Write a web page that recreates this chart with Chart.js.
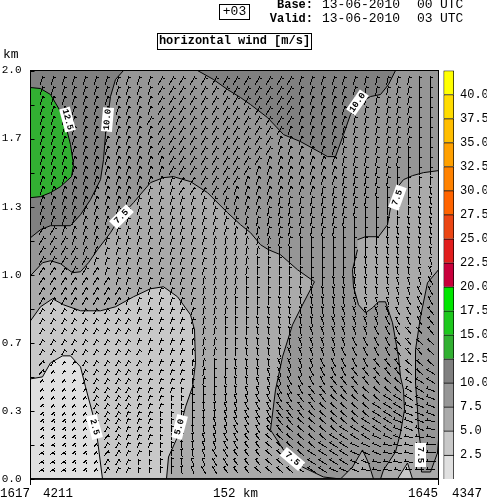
<!DOCTYPE html>
<html>
<head>
<meta charset="utf-8">
<title>horizontal wind</title>
<script src="https://cdn.jsdelivr.net/npm/chart.js@4/dist/chart.umd.min.js"></script>
<style>
    body { margin: 0; background: #fff; }
    canvas { position: absolute; top: 0; }
</style>
</head>
<body>
<canvas id="sectionChart" width="487" height="499" style="left:0"></canvas>
<canvas id="barChart" width="47" height="499" style="left:440px"></canvas>
<script>
// speed bands [m/s]
var bandEdges = [2.5, 5, 7.5, 10, 12.5, 15, 17.5, 20, 22.5, 25, 27.5, 30, 32.5, 35, 37.5, 40, 42.5];
var bandColours = ["#e0e0e0", "#c8c8c8", "#aaaaaa", "#969696", "#808080", "#32b032", "#1ec81e", "#00e600", "#c8003c", "#e11e1e", "#eb4614", "#ff6400", "#ff8200", "#ffa000", "#ffbe00", "#ffdc00", "#ffff00"];

// contours as [section step, height step]; 204 height steps = 1 km
var contourBase = [[0, 0], [408, 0], [408, 408], [0, 408]];
var contourLeft5 = [[0, 203], [12, 216], [20, 218], [30, 215], [42, 206], [50, 207], [58, 216], [67, 229], [80, 246], [90, 262], [103, 276], [120, 296], [133, 301], [143, 302], [160, 297], [177, 286], [197, 266], [210, 254], [220, 246], [230, 234], [238, 229], [250, 224], [267, 209], [284, 197], [272, 174], [262, 154], [252, 122], [245, 89], [240, 49], [253, 29], [272, 12], [293, 2], [310, 0], [0, 0]];
var contourWedge5 = [[310, 0], [322, 12], [332, 29], [338, 16], [343, 0]];
var contourRight5 = [[327, 239], [335, 242], [348, 242], [357, 254], [360, 271], [365, 289], [373, 299], [382, 303], [393, 306], [408, 308], [408, 209], [397, 196], [390, 162], [385, 129], [385, 96], [387, 69], [388, 49], [390, 34], [391, 7], [400, 7], [407, 26], [408, 39], [408, 0], [350, 0], [353, 9], [365, 27], [370, 46], [374, 69], [373, 89], [370, 102], [368, 122], [362, 156], [355, 177], [348, 177], [342, 171], [335, 166], [328, 174], [323, 192], [322, 209], [327, 229]];
var contourTriangle25 = [[367, 0], [377, 16], [382, 0]];
var contourLeft25 = [[0, 158], [10, 172], [22, 180], [33, 174], [50, 168], [70, 168], [85, 172], [103, 182], [120, 190], [133, 192], [147, 182], [160, 164], [164, 149], [165, 116], [162, 92], [155, 72], [147, 42], [138, 22], [136, 0], [0, 0]];
var contourLeft0 = [[0, 100], [12, 102], [20, 116], [32, 123], [40, 123], [50, 112], [55, 92], [63, 62], [67, 39], [72, 0], [0, 0]];
var contourTopLeft10 = [[93, 408], [85, 399], [80, 382], [75, 344], [73, 319], [70, 299], [60, 279], [50, 264], [40, 253], [20, 253], [10, 249], [0, 241], [0, 408]];
var contourTopRight10 = [[167, 408], [183, 399], [197, 389], [210, 381], [220, 374], [237, 361], [253, 344], [270, 337], [290, 326], [297, 322], [305, 322], [313, 344], [320, 364], [327, 374], [340, 382], [350, 384], [358, 394], [365, 408]];
var contourGreen125 = [[0, 391], [10, 390], [20, 384], [30, 367], [35, 354], [40, 334], [43, 314], [41, 302], [30, 292], [20, 286], [10, 282], [0, 281]];

// wind grid
var windColumns = [11, 22, 33, 43, 54, 65, 76, 87, 97, 108, 119, 130, 141, 151, 162, 173, 184, 195, 205, 216, 227, 238, 249, 259, 270, 281, 292, 303, 313, 324, 335, 346, 357, 367, 378, 389, 400];
var windLevels = [398, 388, 378, 368, 358, 348, 338, 328, 318, 308, 298, 288, 278, 268, 258, 248, 238, 228, 218, 208, 198, 188, 178, 168, 158, 148, 137, 127, 116, 107, 98, 89, 81, 73, 65, 58, 50, 42, 34, 26, 17, 9];
// direction letters: a = -90 deg ... j = 0 deg (north) ... p = +60 deg, 10 deg a letter
var windDirRows = [
    "lllllllllllmmmmmmmmmmmmmllllllkkkkkjj",
    "lllllllllllmmmmmmmmmmmmmllllllkkkkkjj",
    "lllllllllllmmmmmmmmmmmmmlllllkkkkkkjj",
    "lllllllllllmmmmmmmmmmmmmlllllkkkkkkjj",
    "llllllllllmmmmmmmmmmmmmmlllllkkkkkkjj",
    "lllllllllllmmmmmmmmmmmmlllllkkkkkkkjj",
    "lllllllllllmmmmmmmmmmmllllllkkkkkkkjj",
    "lllllllllllmmmmmmmmmmmllllllkkkkkkjjj",
    "llllllllllllmmmmmmmmmlllllllkkkkkkjjj",
    "llllllllllllmmmmmmmmllllllllkkkkkjjjj",
    "lllllllllllllmmmmmmlllllllllkkkkkjjjj",
    "lllllllllllllmmmmmllllllllkkkkkkjjjji",
    "llllllllllllllllllllllkkkkkkkkkjjjjii",
    "lllllllllllllllllllllkkkkkkkkkjjjjjii",
    "lllllllllllllllllllkkkkkkkkkkjjjjjiii",
    "mmllllllllllllllllkkkkkkkkkkjjjjjiiii",
    "mmmlllllllllllllkkkkkkkkjjjjjjjjiiiii",
    "mmmmllllllllllllkkkkkjjjjjjjjjjiiiiii",
    "mmmmmlllllllllllkkkkjjjjjjjjjjiiiiiih",
    "mmmmmmllllllllllkkkkjjjjjjjjjiiiiiihh",
    "mmmmmmmllllllllkkkkjjjjjjjjiiiiiihhhg",
    "mmmmmmmmlllllllkkkkjjjjjiiiiiiiihhhgg",
    "mmmmmmmmlllllllkkkjjjjiiiiiiihhhhhggg",
    "mmmmmmmmmllllllkkkjjjiiiiiiihhhhhgggf",
    "mmmmmmmmmllllllkkjjjiiiiiihhhhhhggggf",
    "mmmmmmmmmlllllkkkjjjiiiiihhhhhhgggfff",
    "mmmmmmmmmlllllkkkjjiiiiihhhhhggggffee",
    "mmmmmmmmmmllllkkkjjiiiihhhhhgggggfffe",
    "nmmmmmmmmmllllkkjjiiiihhhhgggggfffeee",
    "nnmmmmmmmlllllkkjjiiihhhhggggfffffeed",
    "nnnmmmmmmlllllkkjiiihhhggggfffffeeddd",
    "nnnnmmmmmllllkkjjiihhhgggfffffeeeeddc",
    "nnnnnmmmmlllkkjjiihhggggfffeeeeedddcc",
    "onnnnmmmmlllkkjiihhgggffffeeeeedddccc",
    "oonnnmmmlllkkjjiihhgggfffeeeeeedddccc",
    "ooonnnmmlllkkjjihhgggfffeeeeeedddcccb",
    "ooonnnmmlllkjjiihhgggffeeeeedddddcccb",
    "oooonnnmlllkjjihhggffeeeeeeddddcccbbb",
    "ppoonnmmlllkjiihhggffeeeeedddcccbbbba",
    "pppoonnmllkkjiihggfffeeeeddddcccbbbaa",
    "pppoonmmlkkjjihhggfffeeeeddddccbbbbaa",
    "pppoonmllkkjjihggfffeeeedddcccbbbbaaa"
];
// speed in m/s, one hex digit a point
var windSpeedRows = [
    "bbbbbbbb99999999bbbbbbbbbbbbbbbbb9999",
    "dbbbbbbb9999999999bbbbbbbbbbbbbbb9999",
    "ddbbbbbb999999999999bbbbbbbbbbb999999",
    "dddbbbb999999999999999bbbbbbbb9999999",
    "dddbbbb99999999999999999bbbbbb9999999",
    "dddbbbb999999999999999999bbbb99999999",
    "dddbbbb99999999999999999999bb99999999",
    "dddbbbb999999999999999999999b99999999",
    "dddbbb9999999999999999999999999999999",
    "dddbbb9999999999999999999999999999977",
    "dddbbb9999997779999999999999999999977",
    "ddbbb99999777777999999999999999999977",
    "bbbbb99997777777779999999999999997777",
    "bbbb999977777777777999999999999977777",
    "bbb9999977777777777799999999999977777",
    "b999999777777777777779999999999997777",
    "9999997777777777777777999999999777777",
    "9999997777777777777777999999999777777",
    "9999977777777777777777777999999777777",
    "7779977777777777777777777999999777779",
    "7777777777777777777777777799997777779",
    "7777777777777777777777777999997777799",
    "7777777777777777777777779999977777799",
    "4444444444444477777777779999997997799",
    "4444444444444447777777779999999997799",
    "4444444444444447777777799999999999779",
    "4444444444444447777777799999999999779",
    "4444444444444447777777999999999999779",
    "4422444444444447777777999999999999779",
    "4222444444444447777777999999999999799",
    "2222444444444447777777999999999999799",
    "2222244444444477777777999999999999799",
    "2222244444444477777777999999999999979",
    "2222244444444477777777999999999999979",
    "2222244444444477777777999999999999979",
    "2222244444444777777777999999999999979",
    "2222224444444777777777999999999999799",
    "2222224444444777777777999999999997799",
    "2222224444444777777777799999999997799",
    "2222224444444777777777779999999997799",
    "2222224444447777777777779999997997799",
    "2222224444447777777777777999977974477"
];

// white contour labels
var labelColumns = [37, 77, 91, 327, 367, 64, 149, 262, 390];
var labelLevels = [359, 359, 262, 376, 281, 52, 52, 20, 24];
var labelAngles = [75, -85, -45, -55, -70, 75, -75, 40, 90];
var labelTexts = ["12.5", "10.0", "7.5", "10.0", "7.5", "2.5", "5.0", "7.5", "7.5"];

var yTickLabels = ["0.0", "0.3", "0.7", "1.0", "1.3", "1.7", "2.0"];
var monoFont = '"Liberation Mono", monospace';

function toPoints(list) {
    var points = [];
    for (var i = 0; i < list.length; i++) {
        points.push({ x: list[i][0], y: list[i][1] });
    }
    return points;
}

function contourDataset(list, band, order, noLine) {
    return {
        type: "line",
        data: toPoints(list),
        backgroundColor: bandColours[band],
        borderColor: "#000",
        borderWidth: noLine ? 0 : 1,
        pointRadius: 0,
        showLine: !noLine,
        fill: "shape",
        tension: 0,
        order: order
    };
}

var windPoints = [];
var windAngles = [];
var windSpeeds = [];
for (var r = 0; r < windLevels.length; r++) {
    for (var c = 0; c < windColumns.length; c++) {
        windPoints.push({ x: windColumns[c], y: windLevels[r] });
        windAngles.push((windDirRows[r].charCodeAt(c) - 97) * 10 - 90);
        windSpeeds.push(parseInt(windSpeedRows[r].charAt(c) || "9", 16));
    }
}

var arrowCache = {};
function arrowImage(speed) {
    var len = Math.min(10, Math.round(4 + speed * 0.7));
    if (arrowCache[len]) return arrowCache[len];
    var cv = document.createElement("canvas");
    cv.width = 9;
    cv.height = len + 4;
    var g = cv.getContext("2d");
    g.fillStyle = "#000";
    g.fillRect(4, 2, 1, len);
    g.fillRect(5, 3, 2, 1);
    arrowCache[len] = cv;
    return cv;
}

function text(ctx, str, x, y, font, align) {
    ctx.font = font;
    ctx.textAlign = align || "left";
    ctx.textBaseline = "middle";
    ctx.fillStyle = "#000";
    ctx.fillText(str, x, y);
}

var sectionExtras = {
    id: "sectionExtras",
    beforeDatasetsDraw: function (chart) {
        chart.ctx.imageSmoothingEnabled = false;
    },
    afterDatasetsDraw: function (chart) {
        var ctx = chart.ctx;
        var xs = chart.scales.x;
        var ys = chart.scales.y;
        var area = chart.chartArea;

        // contour labels
        for (var i = 0; i < labelTexts.length; i++) {
            ctx.save();
            ctx.translate(xs.getPixelForValue(labelColumns[i]), ys.getPixelForValue(labelLevels[i]));
            ctx.rotate(labelAngles[i] * Math.PI / 180);
            ctx.fillStyle = "#fff";
            ctx.fillRect(-12, -5.5, 24, 11);
            text(ctx, labelTexts[i], 0, 0, "bold 9px " + monoFont, "center");
            ctx.restore();
        }

        // frame and ticks
        ctx.save();
        ctx.strokeStyle = "#000";
        ctx.lineWidth = 1;
        ctx.strokeRect(area.left, area.top, area.right - area.left, area.bottom - area.top);
        ctx.lineWidth = 1.5;
        ctx.beginPath();
        ctx.moveTo(area.left, area.bottom);
        ctx.lineTo(area.right, area.bottom);
        ctx.stroke();
        ctx.lineWidth = 1;
        ctx.beginPath();
        for (var t = 0; t < ys.ticks.length; t++) {
            var py = Math.round(ys.getPixelForValue(ys.ticks[t].value)) + 0.5;
            ctx.moveTo(area.left, py);
            ctx.lineTo(area.left + 4, py);
        }
        ctx.moveTo(area.left, area.bottom);
        ctx.lineTo(area.left, area.bottom + 6);
        ctx.moveTo(area.right, area.bottom);
        ctx.lineTo(area.right, area.bottom + 6);
        ctx.stroke();
        ctx.restore();

        // header and footer texts
        var big = "13px " + monoFont;
        var foot = "12.5px " + monoFont;
        ctx.save();
        ctx.strokeStyle = "#000";
        ctx.lineWidth = 1;
        ctx.strokeRect(219.5, 4.5, 30, 15);
        ctx.strokeRect(157.5, 33.5, 154, 16);
        ctx.restore();
        text(ctx, "+03", 234.5, 12, big, "center");
        text(ctx, "horizontal wind [m/s]", 234.5, 41, "bold 12px " + monoFont, "center");
        text(ctx, "Base:", 313, 5, "bold 12px " + monoFont, "right");
        text(ctx, "13-06-2010", 322, 5, big);
        text(ctx, "00", 417, 5, big);
        text(ctx, "UTC", 440, 5, big);
        text(ctx, "Valid:", 313, 19, "bold 12px " + monoFont, "right");
        text(ctx, "13-06-2010", 322, 19, big);
        text(ctx, "03", 417, 19, big);
        text(ctx, "UTC", 440, 19, big);
        text(ctx, "km", 3, 55, big);
        text(ctx, "1617", 0, 494, foot);
        text(ctx, "4211", 43, 494, foot);
        text(ctx, "152 km", 213, 494, foot);
        text(ctx, "1645", 408, 494, foot);
        text(ctx, "4347", 452, 494, foot);
    }
};

new Chart(document.getElementById("sectionChart").getContext("2d"), {
    type: "scatter",
    data: {
        datasets: [
            {
                data: windPoints,
                showLine: false,
                pointRadius: 3,
                pointStyle: function (ctx) { return arrowImage(windSpeeds[ctx.dataIndex]); },
                rotation: function (ctx) { return windAngles[ctx.dataIndex]; },
                order: 0
            },
            contourDataset(contourGreen125, 5, 1),
            contourDataset(contourTopRight10, 4, 2),
            contourDataset(contourTopLeft10, 4, 3),
            contourDataset(contourLeft0, 0, 4),
            contourDataset(contourLeft25, 1, 5),
            contourDataset(contourTriangle25, 1, 6),
            contourDataset(contourRight5, 2, 7),
            contourDataset(contourWedge5, 2, 8),
            contourDataset(contourLeft5, 2, 9),
            contourDataset(contourBase, 3, 10, true)
        ]
    },
    options: {
        responsive: false,
        animation: false,
        layout: { padding: { top: 70.5, right: 48.5, bottom: 20, left: 0 } },
        plugins: { legend: { display: false }, tooltip: { enabled: false } },
        scales: {
            x: { type: "linear", min: 0, max: 408, display: false },
            y: {
                type: "linear",
                min: 0,
                max: 408,
                grid: { display: false, drawTicks: false },
                border: { display: false },
                afterFit: function (scale) { scale.width = 30.5; },
                ticks: {
                    stepSize: 34,
                    autoSkip: false,
                    padding: 9,
                    color: "#000",
                    font: { family: monoFont, size: 11 },
                    callback: function (value) {
                        return value % 68 === 0 ? yTickLabels[value / 68] : "";
                    }
                }
            }
        }
    },
    plugins: [sectionExtras]
});

// colour bar
var barDatasets = [];
for (var i = 0; i < bandEdges.length; i++) {
    barDatasets.push({
        data: [2.5],
        backgroundColor: bandColours[i],
        borderColor: "#000",
        borderWidth: 1,
        barPercentage: 1,
        categoryPercentage: 1
    });
}

new Chart(document.getElementById("barChart").getContext("2d"), {
    type: "bar",
    data: { labels: [""], datasets: barDatasets },
    options: {
        responsive: false,
        animation: false,
        layout: { padding: { top: 70.5, right: 0, bottom: 20, left: 3.5 } },
        plugins: { legend: { display: false }, tooltip: { enabled: false } },
        scales: {
            x: { stacked: true, display: false },
            y: {
                stacked: true,
                position: "right",
                min: 0,
                max: 42.5,
                grid: { display: false, drawTicks: false },
                border: { display: false },
                afterFit: function (scale) { scale.width = 33; },
                ticks: {
                    stepSize: 2.5,
                    autoSkip: false,
                    padding: 6,
                    color: "#000",
                    font: { family: monoFont, size: 12 },
                    callback: function (value) {
                        return value > 0 && value < 42.5 ? value.toFixed(1) : "";
                    }
                }
            }
        }
    }
});
</script>
</body>
</html>
